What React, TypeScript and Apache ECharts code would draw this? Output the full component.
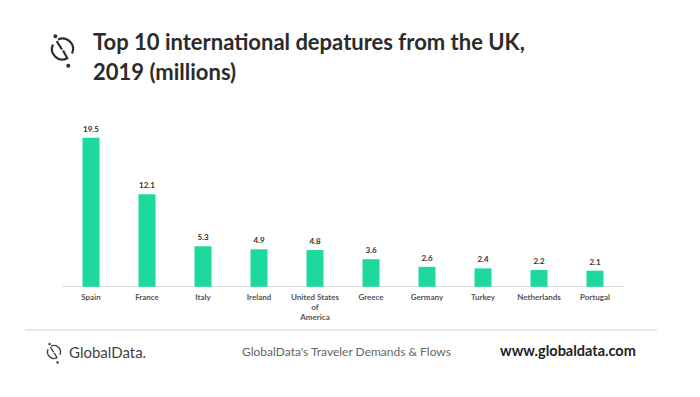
import React, { useEffect, useRef } from "react";
import * as echarts from "echarts";

const categories = ["Spain", "France", "Italy", "Ireland", "United States\nof\nAmerica", "Greece", "Germany", "Turkey", "Netherlands", "Portugal"];
const departures = [19.5, 12.1, 5.3, 4.9, 4.8, 3.6, 2.6, 2.4, 2.2, 2.1];
const titleLines = ["Top 10 international depatures from the UK,", "2019 (millions)"];
const footerMiddle = "GlobalData's Traveler Demands & Flows";
const footerRight = "www.globaldata.com";
const footerBrand = "GlobalData.";

function logo(cx: number, cy: number, r: number, lw: number, color: string) {
  const a = Math.PI / 4;
  return [
    { type: "arc", shape: { cx, cy, r, startAngle: -a * 3 + 0.35, endAngle: a - 0.35 }, style: { stroke: color, lineWidth: lw, fill: "none" } },
    { type: "arc", shape: { cx, cy, r, startAngle: a + 0.35, endAngle: Math.PI + a - 0.35 }, style: { stroke: color, lineWidth: lw, fill: "none" } },
    { type: "line", shape: { x1: cx - r * 0.55, y1: cy - r * 0.75, x2: cx - r * 0.05, y2: cy + r * 0.05 }, style: { stroke: color, lineWidth: lw } },
    { type: "line", shape: { x1: cx + r * 0.05, y1: cy + r * 0.15, x2: cx + r * 0.5, y2: cy + r * 0.95 }, style: { stroke: color, lineWidth: lw } },
    { type: "circle", shape: { cx: cx - r * 0.68, cy: cy - r * 1.22, r: lw * 0.9 }, style: { fill: color } },
    { type: "circle", shape: { cx: cx + r * 0.55, cy: cy + r * 1.6, r: lw * 0.9 }, style: { fill: color } },
  ];
}

export default function App() {
  const ref = useRef<HTMLDivElement>(null);
  useEffect(() => {
    if (!ref.current) return;
    const chart = echarts.init(ref.current, null, { renderer: "svg" });
    chart.setOption({
      animation: false,
      backgroundColor: "#ffffff",
      grid: { left: 63, right: 77, top: 134, bottom: 397 - 286.7 },
      xAxis: {
        type: "category",
        data: categories,
        axisLine: { lineStyle: { color: "#d9d9d9", width: 1 } },
        axisTick: { show: false },
        axisLabel: { color: "#555", fontSize: 8, fontFamily: "Lato", fontWeight: "bold", margin: 5, lineHeight: 10, interval: 0 },
      },
      yAxis: { type: "value", min: 0, max: 20, show: false, splitLine: { show: false } },
      series: [
        {
          type: "bar",
          data: departures,
          barWidth: 17,
          itemStyle: { color: "#1ed99d" },
          label: { show: true, position: "top", distance: 5, color: "#333", fontSize: 8, fontWeight: "bold", fontFamily: "Lato" },
        },
      ],
      graphic: [
        ...logo(62.5, 49, 10.5, 2.2, "#2e2e38"),
        { type: "text", left: 93, top: 30, style: { text: titleLines[0], fontSize: 22, fontWeight: "bold", fontFamily: "Lato", fill: "#2b2b2b" } },
        { type: "text", left: 93, top: 60, style: { text: titleLines[1], fontSize: 22, fontWeight: "bold", fontFamily: "Lato", fill: "#2b2b2b" } },
        { type: "line", shape: { x1: 25, y1: 330, x2: 657, y2: 330 }, style: { stroke: "#e0e0e0", lineWidth: 1.5 } },
        ...logo(54, 352, 6.5, 1.4, "#444"),
        { type: "text", left: 69, top: 344, style: { text: footerBrand, fontSize: 15, fontFamily: "Lato", fill: "#444" } },
        { type: "text", left: 242, top: 345, style: { text: footerMiddle, fontSize: 12, fontFamily: "Lato", fill: "#666" } },
        { type: "text", left: 500, top: 343, style: { text: footerRight, fontSize: 14.5, fontWeight: "bold", fontFamily: "Lato", fill: "#222" } },
      ],
    });
    return () => chart.dispose();
  }, []);
  return <div ref={ref} style={{ width: 700, height: 397, position: "absolute", left: 0, top: 0 }} />;
}
